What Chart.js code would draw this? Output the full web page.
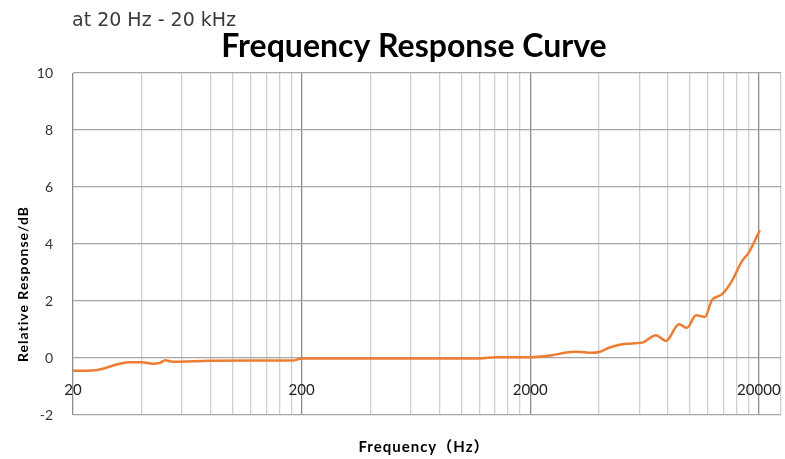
<!DOCTYPE html>
<html lang="en">
<head>
<meta charset="UTF-8">
<title>Frequency Response Curve</title>
<script src="https://cdn.jsdelivr.net/npm/chart.js@4.4.0/dist/chart.umd.min.js"></script>
<style>
  body { margin: 0; background: #fff; }
  #wrap { width: 785px; height: 459px; }
</style>
</head>
<body>
<div id="wrap"><canvas id="myChart" width="785" height="459"></canvas></div>
<script>
var freqHz = [20, 24.4, 27, 29, 32, 35.5, 40, 44.7, 48, 50.5, 54.7, 79, 120, 183, 200,
              536, 1197, 1421, 1980, 2496, 2873, 3176, 3732, 4001, 4427, 5250, 6166,
              7096, 7850, 8950, 9700, 10620, 11620, 12470, 13780, 15240, 16870, 18080, 20200];
var responseDb = [-0.45, -0.44, -0.38, -0.3, -0.2, -0.15, -0.15, -0.2, -0.17, -0.08, -0.13, -0.1, -0.09, -0.09, -0.02,
                  -0.02, -0.02, 0.03, 0.03, 0.1, 0.19, 0.22, 0.18, 0.21, 0.36, 0.5, 0.54,
                  0.8, 0.6, 1.18, 1.06, 1.5, 1.44, 2.03, 2.23, 2.7, 3.4, 3.7, 4.48];

// grid positions on the frequency axis (20 x k per decade)
var gridHz = [20, 40, 60, 80, 100, 120, 140, 160, 180,
              200, 400, 600, 800, 1000, 1200, 1400, 1600, 1800,
              2000, 4000, 6000, 8000, 10000, 12000, 14000, 16000, 18000,
              20000, 25000];
var labelHz = [20, 200, 2000, 20000];
var majorHz = [20, 200, 2000, 20000];

var points = freqHz.map(function (f, i) { return { x: f, y: responseDb[i] }; });

var textPlugin = {
  id: 'texts',
  afterDraw: function (chart) {
    var c = chart.ctx;
    c.save();
    c.fillStyle = '#3a3a3a';
    c.font = '19px "DejaVu Sans"';
    c.textAlign = 'left';
    c.textBaseline = 'alphabetic';
    c.fillText('at 20 Hz - 20 kHz', 72, 26);

    c.fillStyle = '#000';
    c.font = 'bold 32px Lato';
    c.textAlign = 'center';
    c.fillText('Frequency Response Curve', 414, 57);

    c.letterSpacing = '1px';
    c.font = 'bold 15px Lato, "Noto Sans CJK SC"';
    c.fillText('Frequency（Hz）', 424, 452);

    c.font = 'bold 14px Lato';
    c.translate(23, 284);
    c.rotate(-Math.PI / 2);
    c.textBaseline = 'middle';
    c.fillText('Relative Response/dB', 0, 0);
    c.restore();
  }
};

var ctx = document.getElementById('myChart').getContext('2d');
var chart = new Chart(ctx, {
  type: 'line',
  data: {
    datasets: [{
      label: 'Response',
      data: points,
      borderColor: '#ED7D31',
      backgroundColor: '#ED7D31',
      borderWidth: 2.5,
      pointRadius: 0,
      cubicInterpolationMode: 'monotone'
    }]
  },
  options: {
    responsive: false,
    animation: false,
    layout: { padding: { top: 73, right: 4, left: 0, bottom: 0 } },
    plugins: { legend: { display: false }, tooltip: { enabled: false } },
    scales: {
      x: {
        type: 'logarithmic',
        min: 20,
        max: 25000,
        afterBuildTicks: function (s) { s.ticks = gridHz.map(function (v) { return { value: v }; }); },
        afterFit: function (s) { s.height = 44; s.paddingLeft = 0; s.paddingRight = 0; },
        border: { display: false },
        grid: {
          drawTicks: false,
          color: function (c) { return majorHz.indexOf(c.tick.value) >= 0 ? '#8c8c8c' : '#cfcfcf'; },
          lineWidth: 1.3
        },
        ticks: {
          autoSkip: false,
          maxRotation: 0,
          mirror: true,
          padding: 16,
          color: '#222',
          font: { family: 'Lato', size: 15 },
          callback: function (v) { return labelHz.indexOf(v) >= 0 ? String(v) : ''; }
        }
      },
      y: {
        min: -2,
        max: 10,
        afterFit: function (s) { s.width = 73; },
        border: { display: false },
        grid: { drawTicks: false, color: '#a6a6a6', lineWidth: 1.3 },
        ticks: {
          stepSize: 2,
          padding: 20,
          color: '#333',
          font: { family: 'Lato', size: 14 }
        }
      }
    }
  },
  plugins: [textPlugin]
});
</script>
</body>
</html>
